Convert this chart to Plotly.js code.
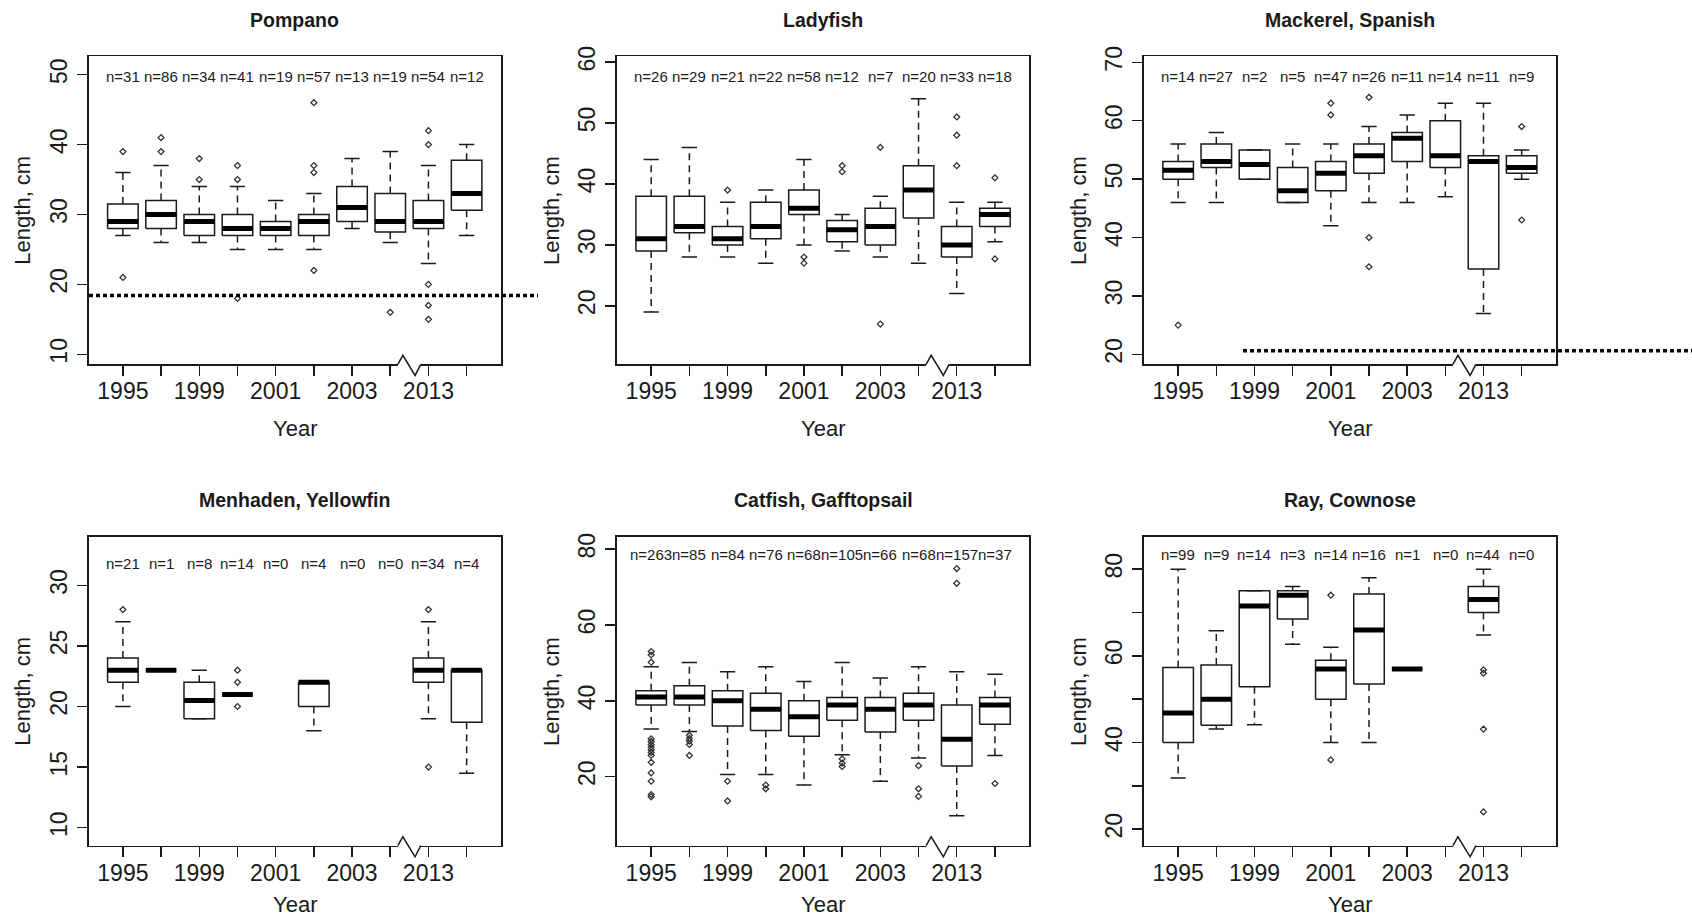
<!DOCTYPE html>
<html>
<head>
<meta charset="utf-8">
<script src="https://cdn.plot.ly/plotly-3.0.1.min.js"></script>
<style>html,body{margin:0;padding:0;background:#fff;}#chart{width:1692px;height:921px;}</style>
</head>
<body>
<div id="chart"></div>
<script>
// ---------- data ----------
const yearLabels = ["1995", "", "1999", "", "2001", "", "2003", "", "2013", ""];
const panelTitles = ["Pompano", "Ladyfish", "Mackerel, Spanish", "Menhaden, Yellowfin", "Catfish, Gafftopsail", "Ray, Cownose"];

const pompanoN   = [31, 86, 34, 41, 19, 57, 13, 19, 54, 12];
const pompanoLo  = [27, 26, 26, 25, 25, 25, 28, 26, 23, 27];
const pompanoQ1  = [28, 28, 27, 27, 27, 27, 29, 27.5, 28, 30.6];
const pompanoMed = [29, 30, 29, 28, 28, 29, 31, 29, 29, 33];
const pompanoQ3  = [31.5, 32, 30, 30, 29, 30, 34, 33, 32, 37.75];
const pompanoHi  = [36, 37, 34, 34, 32, 33, 38, 39, 37, 40];
const pompanoOut = [[39, 21], [41, 39], [38, 35], [37, 35, 18], [], [46, 37, 36, 22], [], [16], [42, 40, 20, 17, 15], []];
const pompanoRefLine = 18.4;

const ladyfishN   = [26, 29, 21, 22, 58, 12, 7, 20, 33, 18];
const ladyfishLo  = [19, 28, 28, 27, 30, 29, 28, 27, 22, 30.5];
const ladyfishQ1  = [29, 32, 30, 31, 35, 30.5, 30, 34.4, 28, 33];
const ladyfishMed = [31, 33, 31, 33, 36, 32.5, 33, 39, 30, 35];
const ladyfishQ3  = [38, 38, 33, 37, 39, 34, 36, 43, 33, 36];
const ladyfishHi  = [44, 46, 37, 39, 44, 35, 38, 54, 37, 37];
const ladyfishOut = [[], [], [39], [], [28, 27], [43, 42], [46, 17], [], [51, 48, 43], [41, 27.7]];

const mackerelN   = [14, 27, 2, 5, 47, 26, 11, 14, 11, 9];
const mackerelLo  = [46, 46, 50, 46, 42, 46, 46, 47, 27, 50];
const mackerelQ1  = [50, 52, 50, 46, 48, 51, 53, 52, 34.6, 51];
const mackerelMed = [51.5, 53, 52.5, 48, 51, 54, 57, 54, 53, 52];
const mackerelQ3  = [53, 56, 55, 52, 53, 56, 58, 60, 54, 54];
const mackerelHi  = [56, 58, 55, 56, 56, 59, 61, 63, 63, 55];
const mackerelOut = [[25], [], [], [], [63, 61], [64, 40, 35], [], [], [], [59, 43]];
const mackerelRefLine = 20.6;

const menhadenN   = [21, 1, 8, 14, 0, 4, 0, 0, 34, 4];
const menhadenLo  = [20, 23, 19, 21, null, 18, null, null, 19, 14.5];
const menhadenQ1  = [22, 23, 19, 21, null, 20, null, null, 22, 18.7];
const menhadenMed = [23, 23, 20.5, 21, null, 22, null, null, 23, 23];
const menhadenQ3  = [24, 23, 22, 21, null, 22, null, null, 24, 23];
const menhadenHi  = [27, 23, 23, 21, null, 22, null, null, 27, 23];
const menhadenOut = [[28], [], [], [23, 22, 20], [], [], [], [], [28, 15], []];

const catfishN   = [263, 85, 84, 76, 68, 105, 66, 68, 157, 37];
const catfishLo  = [32.6, 31.9, 20.6, 20.6, 17.8, 25.8, 18.8, 24.9, 9.7, 25.6];
const catfishQ1  = [38.9, 38.9, 33.4, 32.2, 30.7, 34.9, 31.8, 34.9, 22.8, 33.8];
const catfishMed = [41, 41, 40, 37.8, 35.8, 38.9, 37.8, 38.9, 29.9, 38.9];
const catfishQ3  = [42.7, 44, 42.7, 42, 40, 40.9, 40.9, 42, 38.9, 40.9];
const catfishHi  = [49, 50.1, 47.7, 49, 45.1, 50.1, 46, 49, 47.7, 47];
const catfishOut = [[53, 52.1, 50.2, 30, 29.3, 28.5, 27.8, 27.1, 26.4, 25.6, 23.8, 21, 18.8, 15.3, 14.7],
                    [30.9, 30.1, 29.4, 28.5, 25.6], [18.8, 13.6], [17.8, 16.8], [], [24.7, 23.6, 22.7], [],
                    [22.9, 16.8, 14.8], [74.9, 71], [18.2]];

const rayN   = [99, 9, 14, 3, 14, 16, 1, 0, 44, 0];
const rayLo  = [31.8, 43.1, 44.1, 62.7, 40, 40, 57, null, 64.8, null];
const rayQ1  = [40, 44, 52.9, 68.5, 50, 53.5, 57, null, 70, null];
const rayMed = [46.8, 50, 71.5, 74, 57, 66, 57, null, 73, null];
const rayQ3  = [57.3, 57.9, 75, 75, 59, 74.3, 57, null, 76, null];
const rayHi  = [80, 65.8, 75, 76, 62, 78, 57, null, 80, null];
const rayOut = [[], [], [], [], [74, 36], [], [], [], [56.8, 56, 43.1, 24], []];

// y ticks per panel
const pompanoTicks  = [10, 20, 30, 40, 50];
const ladyfishTicks = [20, 30, 40, 50, 60];
const mackerelTicks = [20, 30, 40, 50, 60, 70];
const menhadenTicks = [10, 15, 20, 25, 30];
const catfishTicks  = [20, 40, 60, 80];
const rayTicks      = [20, 30, 40, 50, 60, 70, 80];
const rayTickText   = ["20", "", "40", "", "60", "", "80"];

// ---------- layout geometry (pixels) ----------
const W = 1692, H = 921;
const colPx = [[88.5, 501], [616.8, 1029.3], [1143.8, 1556]];
const rowPx = [[56, 364.3], [536.7, 845.7]];
const yRanges = [[8.57, 52.68], [10.4, 61.0], [18.3, 71.08], [8.51, 34.02], [1.8, 83.3], [16.2, 87.5]];
const nLabelY = [49.8, 57.7, 67.6, 31.8, 78.5, 83.5];

const panels = [
  {n: pompanoN, lo: pompanoLo, q1: pompanoQ1, med: pompanoMed, q3: pompanoQ3, hi: pompanoHi, out: pompanoOut, ticks: pompanoTicks},
  {n: ladyfishN, lo: ladyfishLo, q1: ladyfishQ1, med: ladyfishMed, q3: ladyfishQ3, hi: ladyfishHi, out: ladyfishOut, ticks: ladyfishTicks},
  {n: mackerelN, lo: mackerelLo, q1: mackerelQ1, med: mackerelMed, q3: mackerelQ3, hi: mackerelHi, out: mackerelOut, ticks: mackerelTicks},
  {n: menhadenN, lo: menhadenLo, q1: menhadenQ1, med: menhadenMed, q3: menhadenQ3, hi: menhadenHi, out: menhadenOut, ticks: menhadenTicks},
  {n: catfishN, lo: catfishLo, q1: catfishQ1, med: catfishMed, q3: catfishQ3, hi: catfishHi, out: catfishOut, ticks: catfishTicks},
  {n: rayN, lo: rayLo, q1: rayQ1, med: rayMed, q3: rayQ3, hi: rayHi, out: rayOut, ticks: rayTicks, tickText: rayTickText}
];

const FONT = "'Liberation Sans', Arial, sans-serif";
const INK = '#1a1a1a';
const BOXHALF = 0.4, STAPLEHALF = 0.2;

const traces = [];
const annotations = [];
const shapes = [];
const layout = {
  width: W, height: H,
  margin: {l: 0, r: 0, t: 0, b: 0, pad: 0},
  paper_bgcolor: '#fff', plot_bgcolor: '#fff',
  showlegend: false,
  font: {family: FONT, color: INK},
  annotations: annotations,
  shapes: shapes
};

panels.forEach((p, k) => {
  const col = k % 3, row = Math.floor(k / 3);
  const xs = k === 0 ? '' : String(k + 1);
  const xName = 'x' + xs, yName = 'y' + xs;
  const xd = [colPx[col][0] / W, colPx[col][1] / W];
  const yd = [1 - rowPx[row][1] / H, 1 - rowPx[row][0] / H];

  layout['xaxis' + xs] = {
    domain: xd, anchor: yName, range: [0.1, 10.9],
    tickmode: 'array', tickvals: yearLabels.map((_, i) => i + 1), ticktext: yearLabels,
    ticks: 'outside', ticklen: 10, tickwidth: 1.5, tickcolor: INK,
    showline: true, mirror: true, linecolor: INK, linewidth: 1.5,
    showgrid: false, zeroline: false, fixedrange: true,
    tickfont: {family: FONT, size: 23, color: INK}, ticklabelstandoff: -4
  };
  layout['yaxis' + xs] = {
    domain: yd, anchor: xName, range: yRanges[k],
    tickmode: 'array', tickvals: p.ticks, ticktext: p.tickText || p.ticks.map(String),
    tickangle: -90,
    ticks: 'outside', ticklen: 10, tickwidth: 1.5, tickcolor: INK,
    showline: true, mirror: true, linecolor: INK, linewidth: 1.5,
    showgrid: false, zeroline: false, fixedrange: true,
    tickfont: {family: FONT, size: 23, color: INK}, ticklabelstandoff: 1
  };

  const bx = [], by = [], mx = [], my = [], wx = [], wy = [], sx = [], sy = [], ox = [], oy = [];
  p.n.forEach((cnt, i) => {
    const x = i + 1;
    if (p.med[i] !== null) {
      bx.push(x - BOXHALF, x + BOXHALF, x + BOXHALF, x - BOXHALF, x - BOXHALF, null);
      by.push(p.q1[i], p.q1[i], p.q3[i], p.q3[i], p.q1[i], null);
      mx.push(x - BOXHALF, x + BOXHALF, null);
      my.push(p.med[i], p.med[i], null);
      if (p.hi[i] > p.q3[i]) { wx.push(x, x, null); wy.push(p.q3[i], p.hi[i], null); }
      if (p.lo[i] < p.q1[i]) { wx.push(x, x, null); wy.push(p.q1[i], p.lo[i], null); }
      sx.push(x - STAPLEHALF, x + STAPLEHALF, null, x - STAPLEHALF, x + STAPLEHALF, null);
      sy.push(p.hi[i], p.hi[i], null, p.lo[i], p.lo[i], null);
    }
    p.out[i].forEach(v => { ox.push(x); oy.push(v); });
    annotations.push({
      xref: xName, yref: yName, x: x, y: nLabelY[k], text: 'n=' + cnt, showarrow: false,
      xanchor: 'center', yanchor: 'middle', font: {family: FONT, size: 15, color: INK}
    });
  });

  const common = {xaxis: xName, yaxis: yName, hoverinfo: 'skip', type: 'scatter'};
  traces.push(Object.assign({x: wx, y: wy, mode: 'lines', line: {color: INK, width: 1.5, dash: '7px,5px'}}, common));
  traces.push(Object.assign({x: sx, y: sy, mode: 'lines', line: {color: INK, width: 1.5}}, common));
  traces.push(Object.assign({x: bx, y: by, mode: 'lines', line: {color: INK, width: 1.5}}, common));
  traces.push(Object.assign({x: mx, y: my, mode: 'lines', line: {color: '#000', width: 5}}, common));
  traces.push(Object.assign({x: ox, y: oy, mode: 'markers', cliponaxis: false,
    marker: {symbol: 'diamond-open', size: 4.5, color: '#333', line: {width: 1.3, color: '#333'}}}, common));

  // panel title
  const cx = (xd[0] + xd[1]) / 2;
  annotations.push({xref: 'paper', yref: 'paper', x: cx, y: 1 - (rowPx[row][0] - 36.3) / H,
    text: '<b>' + panelTitles[k] + '</b>', showarrow: false, xanchor: 'center', yanchor: 'middle',
    font: {family: FONT, size: 19.5, color: INK}});
  // x title
  annotations.push({xref: 'paper', yref: 'paper', x: cx, y: 1 - Math.min(rowPx[row][1] + 64.5, H - 17) / H,
    text: 'Year', showarrow: false, xanchor: 'center', yanchor: 'middle',
    font: {family: FONT, size: 22, color: INK}});
  // y title
  annotations.push({xref: 'paper', yref: 'paper', x: (colPx[col][0] - 66) / W, y: (yd[0] + yd[1]) / 2,
    text: 'Length, cm', textangle: -90, showarrow: false, xanchor: 'center', yanchor: 'middle',
    font: {family: FONT, size: 22, color: INK}});

  // axis break zigzag between positions 8 and 9
  shapes.push({type: 'line', xref: xName, yref: yName + ' domain', x0: 8.2, x1: 8.8, y0: 0, y1: 0,
    line: {color: '#fff', width: 4}, layer: 'above'});
  shapes.push({type: 'path', xref: xName, yref: yName + ' domain',
    path: 'M 8.2,0 L 8.33,0.029 L 8.65,-0.036 L 8.8,0', line: {color: INK, width: 1.5}, layer: 'above'});
});

// reference (dotted) lines
shapes.push({type: 'line', xref: 'paper', yref: 'y', x0: 89 / W, x1: 538 / W, y0: pompanoRefLine, y1: pompanoRefLine,
  line: {color: '#000', width: 3.5, dash: '4px,3px'}, layer: 'above'});
shapes.push({type: 'line', xref: 'paper', yref: 'y3', x0: 1243 / W, x1: 1, y0: mackerelRefLine, y1: mackerelRefLine,
  line: {color: '#000', width: 3.5, dash: '4px,3px'}, layer: 'above'});

Plotly.newPlot('chart', traces, layout, {staticPlot: true, displayModeBar: false});
</script>
</body>
</html>
